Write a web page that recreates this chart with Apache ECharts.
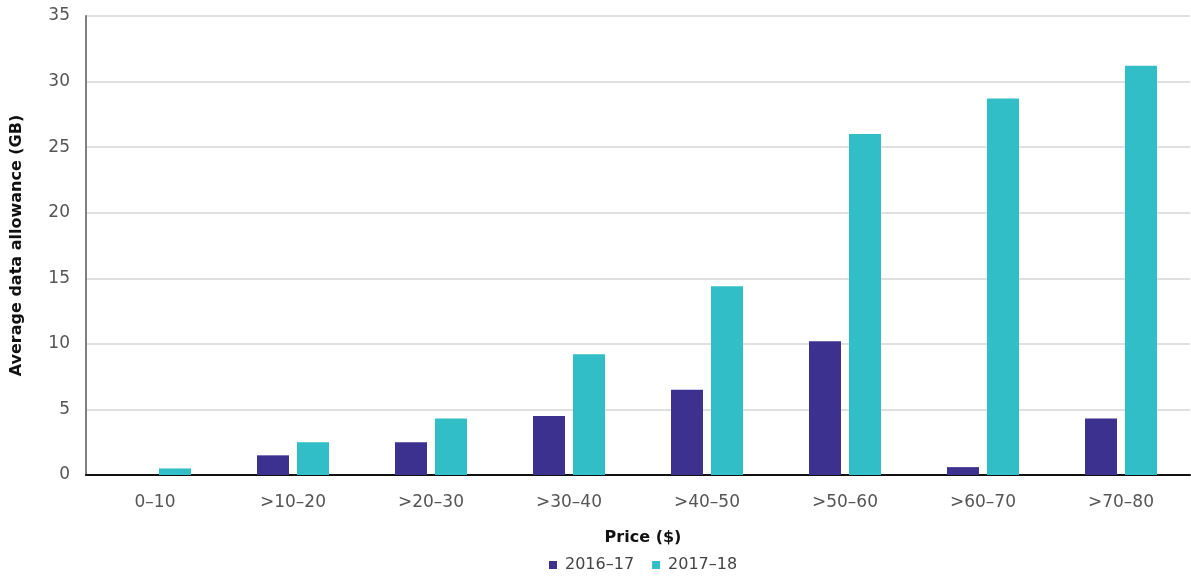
<!DOCTYPE html>
<html>
<head>
<meta charset="utf-8">
<script src="https://cdn.jsdelivr.net/npm/echarts@6/dist/echarts.min.js"></script>
<style>
  html, body { margin: 0; padding: 0; background: #ffffff; }
  #chart { width: 1191px; height: 576px; }
</style>
</head>
<body>
<div id="chart"></div>
<script>
// Price bands (x axis)
const categories = ['0–10', '>10–20', '>20–30', '>30–40', '>40–50', '>50–60', '>60–70', '>70–80'];
// Average data allowance (GB) per price band
const values2016 = [0, 1.5, 2.5, 4.5, 6.5, 10.2, 0.6, 4.3];
const values2017 = [0.5, 2.5, 4.3, 9.2, 14.4, 26.0, 28.7, 31.2];
const seriesNames = ['2016–17', '2017–18'];

const FONT = '"DejaVu Sans", "Liberation Sans", sans-serif';

const chart = echarts.init(document.getElementById('chart'));
chart.setOption({
  animation: false,
  grid: { left: 86, right: 1, top: 16, bottom: 101, outerBoundsMode: 'none', containLabel: false },
  legend: {
    data: seriesNames,
    top: 557,
    left: 549,
    padding: 0,
    itemWidth: 8,
    itemHeight: 8,
    itemGap: 18,
    icon: 'rect',
    textStyle: { fontFamily: FONT, fontSize: 16, color: '#444', padding: [0, 0, 0, 3] }
  },
  xAxis: {
    type: 'category',
    data: categories,
    name: 'Price ($)',
    nameLocation: 'middle',
    nameGap: 55,
    nameTextStyle: { fontFamily: FONT, fontSize: 16, fontWeight: 'bold', color: '#111', padding: [0, 0, 0, 10] },
    axisLine: { lineStyle: { color: '#111', width: 2 } },
    axisTick: { show: false },
    axisLabel: { fontFamily: FONT, fontSize: 17, color: '#555', margin: 19 }
  },
  yAxis: {
    type: 'value',
    min: 0,
    max: 35,
    interval: 5,
    name: 'Average data allowance (GB)',
    nameLocation: 'middle',
    nameGap: 61,
    nameTextStyle: { fontFamily: FONT, fontSize: 16, fontWeight: 'bold', color: '#111' },
    axisLine: { show: true, lineStyle: { color: '#808080', width: 2 } },
    axisTick: { show: false },
    axisLabel: { fontFamily: FONT, fontSize: 17, color: '#555', margin: 16 },
    splitLine: { lineStyle: { color: '#d6d6d6', width: 1.5 } }
  },
  series: [
    {
      name: seriesNames[0],
      type: 'bar',
      data: values2016,
      barWidth: 32,
      barGap: '25%',
      itemStyle: { color: '#3d3190' }
    },
    {
      name: seriesNames[1],
      type: 'bar',
      data: values2017,
      barWidth: 32,
      barGap: '25%',
      itemStyle: { color: '#31bec6' }
    }
  ]
});
</script>
</body>
</html>
